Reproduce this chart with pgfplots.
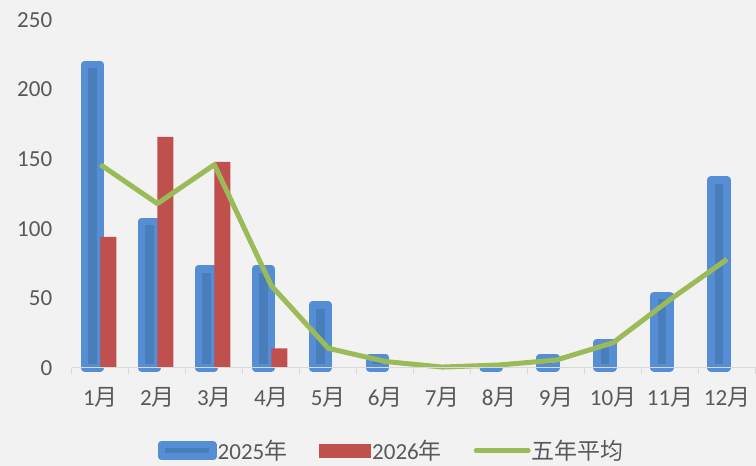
\documentclass[border=0pt]{standalone}
\usepackage{pgfplots}
\pgfplotsset{compat=1.18}
\usepackage{fontspec}
\setmainfont{Carlito}
\newfontfamily\cjk{Noto Sans CJK SC}
\definecolor{bgc}{HTML}{F2F2F2}
\definecolor{bout}{HTML}{558ED5}
\definecolor{bin}{HTML}{4A7EBB}
\definecolor{rbar}{HTML}{C0504D}
\definecolor{gline}{HTML}{9BBB59}
\definecolor{axc}{HTML}{D9D9D9}
\definecolor{txt}{HTML}{595959}
\newcommand{\yue}{{\cjk 月}}
\newcommand{\nian}{{\cjk 年}}
\begin{document}
\begin{tikzpicture}[x=1pt,y=1pt]
\fill[bgc] (0,0) rectangle (756,466);
\begin{axis}[
  at={(72pt,98pt)}, anchor=south west,
  scale only axis, width=684pt, height=348pt,
  xmin=0.5, xmax=12.5, ymin=0, ymax=250,
  axis x line*=bottom, axis y line*=left,
  x axis line style={draw=axc, line width=1pt, -},
  y axis line style={draw=none},
  ytick={0,50,...,250},
  major y tick style={draw=none},
  xtick={1,...,12},
  xticklabels={1\yue,2\yue,3\yue,4\yue,5\yue,6\yue,7\yue,8\yue,9\yue,10\yue,11\yue,12\yue},
  major x tick style={draw=none},
  minor xtick={0.5,1.5,...,12.5},
  minor x tick style={draw=axc, line width=1pt},
  minor tick length=6pt,
  tick align=outside,
  axis on top,
  clip=false,
  ticklabel style={font=\fontsize{23}{23}\selectfont, text=txt},
  /pgf/number format/assume math mode=true,
  yticklabel style={xshift=-12pt},
  xticklabel style={yshift=-12pt},
  legend style={at={(axis description cs:0.1255,-0.2385)}, anchor=west,
    draw=none, fill=none, inner sep=0pt, outer sep=0pt,
    font=\fontsize{23}{23}\selectfont, text=txt,
    legend columns=3,
    nodes={inner sep=0pt, anchor=west},
    /tikz/every odd column/.style={column sep=1pt},
    /tikz/every even column/.style={column sep=32pt}},
]
\addplot[ybar, bar width=16pt, bar shift=-8pt, fill=bin, draw=bout, line width=7.5pt, line join=round,
  legend image code/.code={\draw[fill=bin,draw=bout,line width=7.5pt,line join=round] (0pt,-6pt) rectangle (51.5pt,6pt);}]
  coordinates {(1,218) (2,105) (3,71) (4,71) (5,45) (6,7.5) (8,0) (9,7.5) (10,18) (11,52) (12,135)};
\addlegendentry{2025\nian}
\addplot[ybar, bar width=16pt, bar shift=8pt, fill=rbar, draw=none,
  legend image code/.code={\fill[rbar] (0pt,-7pt) rectangle (52pt,7pt);}]
  coordinates {(1,94) (2,166) (3,148) (4,14)};
\addlegendentry{2026\nian}
\addplot[gline, line width=5pt, line join=round, mark=none,
  legend image code/.code={\draw[gline,line width=5pt,line cap=round] (0pt,0pt) -- (52pt,0pt);}]
  coordinates {(1,146) (2,118) (3,146) (4,59) (5,14) (6,4.5) (7,0.5) (8,2) (9,5.5) (10,18) (11,49) (12,78)};
\addlegendentry{{\cjk 五年平均}}
\end{axis}
\end{tikzpicture}
\end{document}
